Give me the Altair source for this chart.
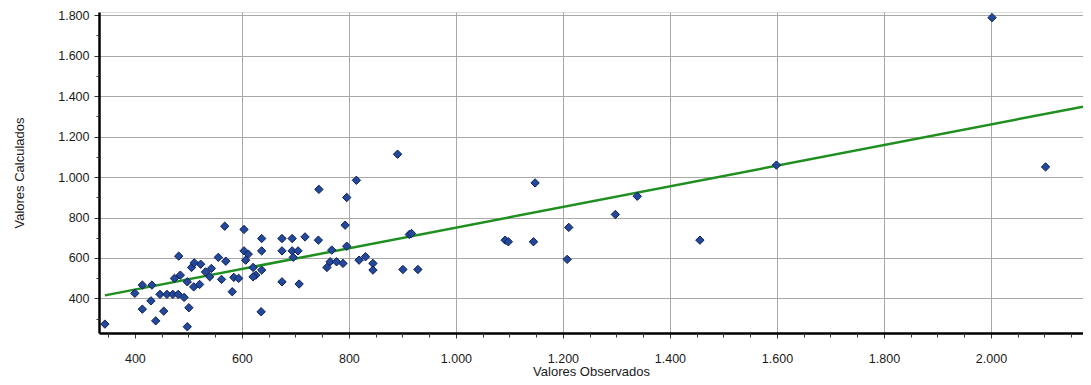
import altair as alt
import pandas as pd

observed = [344, 400, 414, 432, 414, 430, 439, 454, 447, 460, 471, 481, 492, 501, 498,
            474, 485, 482, 506, 511, 523, 498, 510, 521, 532, 543, 540, 556, 570, 562,
            568, 582, 585, 594, 604, 604, 612, 607, 621, 626, 621, 637, 637, 637, 636,
            675, 694, 675, 694, 705, 696, 675, 707, 718, 743, 744, 768, 759, 765, 777,
            789, 796, 793, 796, 814, 819, 831, 845, 845,
            891, 913, 917, 901, 929, 1092, 1098, 1148, 1145, 1211, 1208, 1298, 1339,
            1456, 1599, 2002, 2102]
calculated = [273, 425, 466, 466, 347, 388, 289, 337, 420, 420, 420, 420, 405, 354, 260,
              499, 515, 609, 553, 576, 569, 482, 457, 469, 531, 548, 507, 603, 584, 494,
              757, 433, 504, 499, 741, 635, 619, 589, 553, 515, 507, 540, 696, 635, 334,
              696, 696, 635, 635, 635, 603, 482, 471, 704, 688, 939, 639, 553, 581, 581,
              573, 658, 762, 899, 984, 589, 606, 573, 540,
              1113, 716, 721, 543, 543, 688, 680, 971, 680, 751, 593, 815, 905,
              688, 1059, 1788, 1050]

trend_x = [344, 2172]
trend_y = [415, 1348]

x_ticks = [400, 600, 800, 1000, 1200, 1400, 1600, 1800, 2000]
y_ticks = [400, 600, 800, 1000, 1200, 1400, 1600, 1800]
x_minor = [350, 450, 500, 550, 650, 700, 750, 850, 900, 950, 1050, 1100, 1150, 1250,
           1300, 1350, 1450, 1500, 1550, 1650, 1700, 1750, 1850, 1900, 1950, 2050, 2100, 2150]
y_minor = [300, 500, 700, 900, 1100, 1300, 1500, 1700]

pts = pd.DataFrame({"obs": observed, "calc": calculated})
trend = pd.DataFrame({"obs": trend_x, "calc": trend_y})

xdom = [333, 2172]
ydom = [229, 1816]
lbl = "replace(format(datum.value, ','), ',', '.')"
font = "Liberation Sans"

xscale = alt.Scale(domain=xdom, nice=False, zero=False)
yscale = alt.Scale(domain=ydom, nice=False, zero=False)

x_axis = alt.Axis(values=x_ticks, labelExpr=lbl, title="Valores Observados", orient="bottom",
                  grid=True, gridColor="#a8a8a8", gridWidth=1,
                  gridOpacity={"condition": {"test": "datum.value === 400", "value": 0}, "value": 1},
                  domainColor="#000000", domainWidth=2.5, tickColor="#333333", tickSize=5,
                  labelFont=font, labelFontSize=12.5, labelColor="#1a1a1a", labelPadding=14,
                  titleFont=font, titleFontSize=13, titleFontWeight="normal", titleColor="#1a1a1a",
                  titlePadding=1)
y_axis = alt.Axis(values=y_ticks, labelExpr=lbl, title="Valores Calculados", orient="left",
                  grid=True, gridColor="#a8a8a8", gridWidth=1,
                  domainColor="#000000", domainWidth=2.5, tickColor="#333333", tickSize=5,
                  labelFont=font, labelFontSize=12.5, labelColor="#1a1a1a", labelPadding=5,
                  titleFont=font, titleFontSize=13, titleFontWeight="normal", titleColor="#1a1a1a",
                  titlePadding=31)
x_minor_axis = alt.Axis(values=x_minor, orient="bottom", labels=False, grid=False, domain=False,
                        tickColor="#333333", tickSize=4, title=None)
y_minor_axis = alt.Axis(values=y_minor, orient="left", labels=False, grid=False, domain=False,
                        tickColor="#333333", tickSize=3, title=None)

line = alt.Chart(trend).mark_line(color="#1f8f1f", strokeWidth=2.5, clip=True).encode(
    x=alt.X("obs:Q", scale=xscale, axis=x_axis),
    y=alt.Y("calc:Q", scale=yscale, axis=y_axis),
)

points = alt.Chart(pts).mark_point(shape="diamond", filled=True, size=70,
                                   color="#24489a", stroke="#0c1f5a", strokeWidth=1,
                                   opacity=1).encode(
    x=alt.X("obs:Q", scale=xscale, axis=x_minor_axis),
    y=alt.Y("calc:Q", scale=yscale, axis=y_minor_axis),
)

chart = alt.layer(line, points).resolve_axis(x="independent", y="independent").properties(
    width=984, height=321,
    autosize=alt.AutoSizeParams(type="none"),
    padding={"left": 91, "top": 4, "right": 0, "bottom": 50},
).configure_view(stroke=None).configure(background="white")

chart.save("out.html", embed_options={"renderer": "svg", "actions": False})
